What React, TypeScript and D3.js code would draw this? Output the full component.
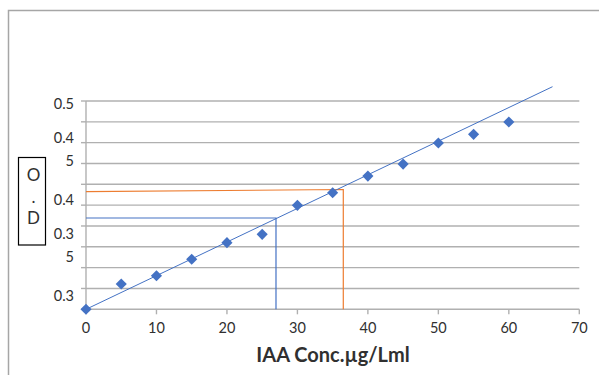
import React from "react";
import * as d3 from "d3";

// ---- data ----
const concentrations = [0, 5, 10, 15, 20, 25, 30, 35, 40, 45, 50, 55, 60];
const odValues = [0.2872, 0.3135, 0.3222, 0.3393, 0.3566, 0.3653, 0.3955, 0.4086, 0.426, 0.4385, 0.4604, 0.4695, 0.4823];

const xTicks = [0, 10, 20, 30, 40, 50, 60, 70];
const yLabelValues = [0.5, 0.45, 0.4, 0.35, 0.3];
const yLabelLines = [["0.5"], ["0.4", "5"], ["0.4"], ["0.3", "5"], ["0.3"]];

const yDomain = [0.2872, 0.5042];
const gridCount = 10;

const trendStart = [0, 0.2872];
const trendEnd = [66.2, 0.5191];

const blueGuide = [[0, 0.3823], [26.96, 0.3823], [26.96, 0.2872]];
const orangeGuide = [[0, 0.4097], [36.51, 0.412], [36.51, 0.2872]];

const xTitle = "IAA Conc.µg/Lml";
const yTitleLines = ["O", ".", "D"];

export default function App() {
  const W = 599, H = 375;
  const x = d3.scaleLinear().domain([0, 70]).range([86, 579.3]);
  const y = d3.scaleLinear().domain(yDomain).range([309.3, 101]);
  const gridVals = d3.range(gridCount + 1).map((i) => yDomain[0] + (i * (yDomain[1] - yDomain[0])) / gridCount);
  const line = d3.line<number[]>().x((d) => x(d[0])).y((d) => y(d[1]));
  const square = d3.symbol().type(d3.symbolSquare).size(62)()!;
  const gridColor = "#b0b0b0";
  const blue = "#4472c4";
  const orange = "#ed7d31";
  const font = "Lato, 'Open Sans', sans-serif";
  const textColor = "#303030";

  return (
    <svg width={W} height={H} style={{ position: "absolute", left: 0, top: 0, background: "#fff" }}>
      {/* outer frame */}
      <path d={`M8.5,${H} V10.5 H${W}`} fill="none" stroke="#a6a6a6" strokeWidth={1.5} />

      {/* gridlines */}
      {gridVals.map((v, i) => (
        <g key={i}>
          <line x1={x(0)} x2={x(70)} y1={y(v)} y2={y(v)} stroke={gridColor} strokeWidth={1.4} />
          <line x1={x(0) - 5} x2={x(0)} y1={y(v)} y2={y(v)} stroke={gridColor} strokeWidth={1.4} />
        </g>
      ))}
      {/* y axis */}
      <line x1={x(0)} x2={x(0)} y1={y(yDomain[0])} y2={y(yDomain[1])} stroke={gridColor} strokeWidth={1.4} />
      {/* x ticks */}
      {xTicks.map((t) => (
        <g key={t}>
          <line x1={x(t)} x2={x(t)} y1={y(yDomain[0])} y2={y(yDomain[0]) + 5} stroke={gridColor} strokeWidth={1.4} />
          <text x={x(t)} y={329} textAnchor="middle" dominantBaseline="middle" fontFamily={font} fontSize={14.5} fill={textColor}>
            {t}
          </text>
        </g>
      ))}

      {/* y labels */}
      {yLabelValues.map((v, i) => {
        const lines = yLabelLines[i];
        const cy = y(v);
        const offsets = lines.length === 1 ? [0] : [-14, 9];
        return lines.map((s, j) => (
          <text key={`${i}-${j}`} x={74} y={cy + offsets[j]} textAnchor="end" dominantBaseline="middle" fontFamily={font} fontSize={14.5} fill={textColor}>
            {s}
          </text>
        ));
      })}

      {/* guide lines */}
      <path d={line(blueGuide)!} fill="none" stroke={blue} strokeWidth={1.2} />
      <path d={line(orangeGuide)!} fill="none" stroke={orange} strokeWidth={1.2} />

      {/* trendline */}
      <path d={line([trendStart, trendEnd])!} fill="none" stroke={blue} strokeWidth={1} />

      {/* points */}
      {concentrations.map((c, i) => (
        <path key={c} d={square} transform={`translate(${x(c)},${y(odValues[i])}) rotate(45)`} fill={blue} />
      ))}

      {/* x title */}
      <text x={333} y={357} textAnchor="middle" dominantBaseline="middle" fontFamily={font} fontSize={20} fontWeight="bold" fill={textColor}>
        {xTitle}
      </text>

      {/* y title box */}
      <rect x={18.5} y={157.5} width={27} height={87.5} fill="none" stroke="#000" strokeWidth={1.2} />
      {yTitleLines.map((s, i) => (
        <text key={i} x={33.5} y={177 + i * 21.5} textAnchor="middle" dominantBaseline="middle" fontFamily={font} fontSize={17} fill={textColor}>
          {s}
        </text>
      ))}
    </svg>
  );
}
